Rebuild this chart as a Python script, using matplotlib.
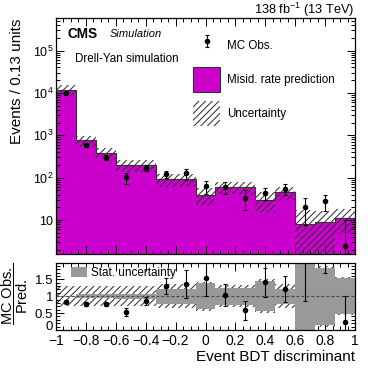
import numpy as np
import matplotlib
matplotlib.use("Agg")
import matplotlib.pyplot as plt
from matplotlib.ticker import FixedLocator, MultipleLocator, FuncFormatter, LogLocator, NullFormatter
from matplotlib.patches import Patch

plt.rcParams['font.family'] = ['Liberation Sans', 'DejaVu Sans']
plt.rcParams['mathtext.fontset'] = 'custom'
plt.rcParams['mathtext.rm'] = 'Liberation Sans'
plt.rcParams['mathtext.it'] = 'Liberation Sans:italic'
plt.rcParams['mathtext.bf'] = 'Liberation Sans:bold'
plt.rcParams['hatch.linewidth'] = 0.75

# ---------------- data ----------------
bin_edges = [-1.0, -0.8667, -0.7333, -0.6, -0.4667, -0.3333, -0.2, -0.0667,
             0.0667, 0.2, 0.3333, 0.4667, 0.6, 0.7333, 0.8667, 1.0]
bin_centers = [-0.9333, -0.8, -0.6667, -0.5333, -0.4, -0.2667, -0.1333, 0.0,
               0.1333, 0.2667, 0.4, 0.5333, 0.6667, 0.8, 0.9333]
pred = [11800, 760, 390, 196, 196, 92, 92, 40, 59, 59, 30, 45, 8.0, 8.8, 11.3]
obs = [9900, 580, 297, 102, 172, 120, 127, 62, 61, 34, 43, 54, 20.6, 28, 2.5]
obs_err_up = [450, 60, 40, 30, 25, 20, 37, 20, 19, 17, 13, 16, 13, 12, 7.5]
obs_err_dn = [450, 60, 40, 30, 25, 20, 37, 20, 19, 17, 13, 16, 13, 12, 2.4]
tot_unc = [0.3, 0.3, 0.3, 0.3, 0.3, 0.35, 0.35, 0.43, 0.32, 0.32, 0.5, 0.35, 1.1, 0.9, 0.57]
stat_unc = [0.02, 0.05, 0.05, 0.07, 0.07, 0.22, 0.22, 0.38, 0.25, 0.25, 0.45, 0.22, 1.1, 0.84, 0.53]
ratio = [0.84, 0.78, 0.77, 0.52, 0.87, 1.30, 1.36, 1.55, 1.03, 0.58, 1.41, 1.21, 2.6, 3.2, 0.24]
ratio_err = [0.05, 0.06, 0.07, 0.12, 0.12, 0.23, 0.40, 0.53, 0.33, 0.29, 0.43, 0.38, 1.73, 1.52, 0.76]

x_ticks = [-1, -0.8, -0.6, -0.4, -0.2, 0, 0.2, 0.4, 0.6, 0.8, 1]
x_tick_labels = ['\u22121', '\u22120.8', '\u22120.6', '\u22120.4', '\u22120.2', '0',
                 '0.2', '0.4', '0.6', '0.8', '1']
ratio_yticks = [0, 0.5, 1, 1.5]
ratio_ytick_labels = ['0', '0.5', '1', '1.5']

MAGENTA = '#CC00CC'
HATCH_COL = '#333333'
GREY = '#999999'

edges = np.array(bin_edges)
pred_a = np.array(pred)
tot_a = np.array(tot_unc)
stat_a = np.array(stat_unc)

W = H = 374
fig = plt.figure(figsize=(3.74, 3.74), dpi=100)
L, R = 56 / W, 355 / W
ax = fig.add_axes([L, 1 - 254.3 / H, R - L, (254.3 - 18.3) / H])
rax = fig.add_axes([L, 1 - 330 / H, R - L, (330 - 262.7) / H])

# ---------------- main panel ----------------
ax.stairs(pred_a, edges, fill=True, color=MAGENTA, linewidth=0, zorder=1)
ax.stairs(pred_a, edges, color=HATCH_COL, linewidth=0.8, zorder=2)
lower = np.maximum(pred_a * (1 - tot_a), 1e-3)
upper = pred_a * (1 + tot_a)
ax.stairs(upper, edges, baseline=lower, fill=True, facecolor='none',
          edgecolor=HATCH_COL, hatch='/////', linewidth=0, zorder=3)
eb = ax.errorbar(bin_centers, obs, yerr=[obs_err_dn, obs_err_up], fmt='o', color='black',
                 markersize=3, elinewidth=0.8, capsize=1.5, capthick=0.8, zorder=5)

ax.set_yscale('log')
ax.set_xlim(-1, 1)
ax.set_ylim(1.55, 5.8e5)
ax.yaxis.set_major_locator(LogLocator(base=10, numticks=12))
ax.yaxis.set_minor_locator(LogLocator(base=10, subs=np.arange(2, 10), numticks=12))
ax.yaxis.set_minor_formatter(NullFormatter())


def yfmt(v, pos):
    e = int(round(np.log10(v)))
    if e == 1:
        return '10'
    return r'$10^{%d}$' % e


ax.yaxis.set_major_formatter(FuncFormatter(yfmt))
ax.xaxis.set_major_locator(FixedLocator(x_ticks))
ax.xaxis.set_minor_locator(MultipleLocator(0.05))
ax.tick_params(axis='x', which='both', labelbottom=False)
ax.tick_params(which='both', direction='in', top=True, right=True, width=0.7)
ax.tick_params(which='major', length=6)
ax.tick_params(which='minor', length=3)
ax.tick_params(axis='y', labelsize=9, pad=2)
for s in ax.spines.values():
    s.set_linewidth(0.9)

handles = [eb, Patch(facecolor=MAGENTA, edgecolor=HATCH_COL, linewidth=0.8),
           Patch(facecolor='none', edgecolor=HATCH_COL, hatch='/////', linewidth=0)]
labels = ['MC Obs.', 'Misid. rate prediction', 'Uncertainty']
ax.legend(handles, labels, loc='upper left', bbox_to_anchor=(0.459, 0.938),
          frameon=False, fontsize=8.4, handlelength=2.3, handleheight=2.9,
          labelspacing=0.8, handletextpad=0.57, borderpad=0, borderaxespad=0)

ax.text(0.04, 0.935, 'CMS', transform=ax.transAxes, fontsize=9.8, fontweight='bold',
        ha='left', va='center')
ax.text(0.18, 0.935, 'Simulation', transform=ax.transAxes, fontsize=8, style='italic',
        ha='left', va='center')
ax.text(0.063, 0.827, 'Drell-Yan simulation', transform=ax.transAxes, fontsize=8.4,
        ha='left', va='center')
fig.text(R, 1 - 10 / H, r'138 fb$^{-1}$ (13 TeV)', ha='right', va='center', fontsize=9.2)
fig.text(17 / W, 1 - 19 / H, 'Events / 0.13 units', rotation=90, ha='center', va='top',
         fontsize=11)

# ---------------- ratio panel ----------------
rax.stairs(1 + tot_a, edges, baseline=1 - tot_a, fill=True, facecolor='none',
           edgecolor=HATCH_COL, hatch='/////', linewidth=0, zorder=1)
rax.stairs(1 + stat_a, edges, baseline=1 - stat_a, fill=True, color=GREY,
           linewidth=0, zorder=2)
rax.axhline(1, color='#444444', linestyle=(0, (2.5, 2)), linewidth=0.8, zorder=3)
rax.errorbar(bin_centers, ratio, yerr=ratio_err, fmt='o', color='black', markersize=3,
             elinewidth=0.8, capsize=1.5, capthick=0.8, zorder=5)
rax.set_xlim(-1, 1)
rax.set_ylim(0, 1.99)
rax.xaxis.set_major_locator(FixedLocator(x_ticks))
rax.set_xticklabels(x_tick_labels)
rax.xaxis.set_minor_locator(MultipleLocator(0.05))
rax.yaxis.set_major_locator(FixedLocator(ratio_yticks))
rax.set_yticklabels(ratio_ytick_labels)
rax.yaxis.set_minor_locator(MultipleLocator(0.1))
rax.tick_params(which='both', direction='in', top=True, right=True, width=0.7)
rax.tick_params(which='major', length=6)
rax.tick_params(which='minor', length=3)
rax.tick_params(axis='x', labelsize=10, pad=3.2)
rax.tick_params(axis='y', labelsize=9.5, pad=2)
# ROOT-style placement: lift the bottom "0" label so it clears the "-1" x label
rax.get_yticklabels()[0].set_verticalalignment('baseline')
for s in rax.spines.values():
    s.set_linewidth(0.9)
rax.legend([Patch(facecolor=GREY, edgecolor='none')], ['Stat. uncertainty'],
           loc='upper left', bbox_to_anchor=(0.05, 0.93), frameon=False, fontsize=8.5,
           handlelength=1.4, handleheight=0.9, handletextpad=0.3, borderpad=0,
           borderaxespad=0)
fig.text(15 / W, 1 - 294 / H, r'$\dfrac{\mathrm{MC\ Obs.}}{\mathrm{Pred.}}$', rotation=90,
         ha='center', va='center', fontsize=10.5)
fig.text(R, 1 - 357 / H, 'Event BDT discriminant', ha='right', va='center', fontsize=11)

fig.savefig('out.png', dpi=100)
